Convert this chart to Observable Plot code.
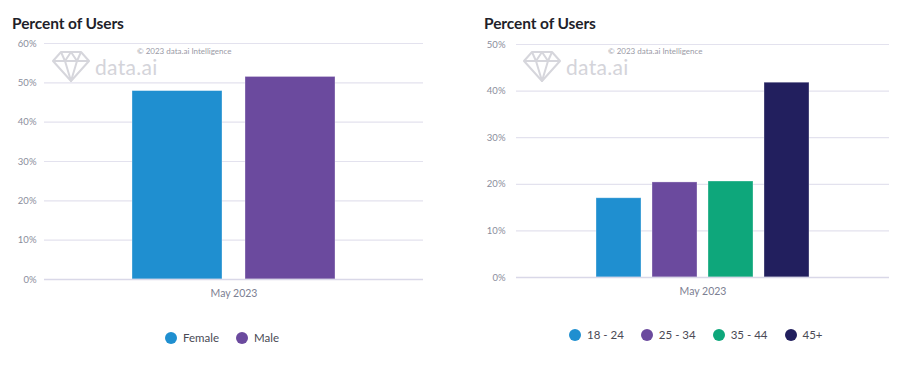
<!DOCTYPE html>
<html>
<head>
<meta charset="utf-8">
<script src="https://cdn.jsdelivr.net/npm/d3@7"></script>
<script src="https://cdn.jsdelivr.net/npm/@observablehq/plot@0.6"></script>
<style>
  html, body { margin: 0; padding: 0; background: #fff; }
  body { width: 900px; height: 368px; position: relative; overflow: hidden; font-family: Lato, "Open Sans", sans-serif; }
  .title { position: absolute; top: 14px; font-size: 15.5px; font-weight: 700; color: #1f1f2b; letter-spacing: -0.1px; }
  .plot { position: absolute; top: 30px; }
  .legend { position: absolute; display: flex; align-items: center; font-size: 11.5px; color: #4a4a55; }
  .legend .item { display: flex; align-items: center; margin-right: 17px; }
  .legend .sw { width: 12px; height: 12px; border-radius: 50%; margin-right: 6px; }
  .wm { position: absolute; color: #c4c4cc; }
  .wm .copy { position: absolute; font-size: 8px; white-space: nowrap; color: #9a9aa6; }
  .wm .brand { position: absolute; font-size: 21px; white-space: nowrap; color: #d4d4da; font-family: Lato, sans-serif; letter-spacing: 0.3px; }
  .wm svg { position: absolute; }
</style>
</head>
<body>
<div class="title" style="left:12px">Percent of Users</div>
<div class="title" style="left:484px">Percent of Users</div>
<div id="left" class="plot" style="left:0px"></div>
<div id="right" class="plot" style="left:450px"></div>
<div id="legL" class="legend" style="left:165px; top:331px"></div>
<div id="legR" class="legend" style="left:569px; top:328px"></div>
<div id="wmL" class="wm" style="left:0; top:0"></div>
<div id="wmR" class="wm" style="left:0; top:0"></div>
<script>
// ---- data ----
const period = "May 2023";
const genderCats = ["Female", "Male"];
const genderVals = [47.9, 51.5];
const ageCats = ["18 - 24", "25 - 34", "35 - 44", "45+"];
const ageVals = [17.0, 20.4, 20.6, 41.8];
const leftTicks = [0, 10, 20, 30, 40, 50, 60];
const rightTicks = [0, 10, 20, 30, 40, 50];
const genderColors = ["#1f8fd0", "#6b4a9e"];
const ageColors = ["#1f8fd0", "#6b4a9e", "#0ea77b", "#221f5e"];
const watermarkCopy = "© 2023 data.ai Intelligence";
const watermarkBrand = "data.ai";

function chart(cats, vals, colors, ticks, opts) {
  const data = cats.map((c, i) => ({cat: c, value: vals[i]}));
  return Plot.plot({
    width: 450,
    height: 280,
    marginLeft: opts.marginLeft,
    marginRight: opts.marginRight,
    marginTop: opts.marginTop,
    marginBottom: opts.marginBottom,
    style: {fontFamily: "Lato, 'Open Sans', sans-serif", fontSize: "9.5px", color: "#8a8d9c", background: "transparent"},
    x: {domain: cats, paddingInner: 0.2, paddingOuter: 0, insetLeft: opts.inset, insetRight: opts.inset, axis: null},
    y: {domain: [0, ticks[ticks.length - 1]], ticks: ticks, tickFormat: d => d + "%", label: null, tickSize: 0, tickPadding: opts.tickPadding},
    color: {domain: cats, range: colors},
    marks: [
      Plot.ruleY(ticks, {stroke: "#e3e2ee", strokeWidth: 1.2}),
      Plot.barY(data, {x: "cat", y: "value", fill: "cat", stroke: "#ffffff", strokeOpacity: 0.4, strokeWidth: 0.8}),
      Plot.ruleY([0], {stroke: "#d9d8e8", strokeWidth: 1.4}),
      Plot.text([period], {frameAnchor: "bottom", dy: 17, fontSize: 10.5, fill: "#7c8092"})
    ]
  });
}

document.getElementById("left").append(
  chart(genderCats, genderVals, genderColors, leftTicks,
    {marginLeft: 44, marginRight: 27, marginTop: 13, marginBottom: 31, inset: 87, tickPadding: 8}));
document.getElementById("right").append(
  chart(ageCats, ageVals, ageColors, rightTicks,
    {marginLeft: 66, marginRight: 11, marginTop: 14, marginBottom: 33, inset: 80, tickPadding: 11}));

function legend(id, cats, colors) {
  const el = document.getElementById(id);
  cats.forEach((c, i) => {
    const it = document.createElement("div");
    it.className = "item";
    it.innerHTML = `<span class="sw" style="background:${colors[i]}"></span><span>${c}</span>`;
    el.append(it);
  });
}
legend("legL", genderCats, genderColors);
legend("legR", ageCats, ageColors);

function watermark(id, x0, y0) {
  const el = document.getElementById(id);
  el.innerHTML = `
    <svg style="left:${x0}px; top:${y0}px" width="38" height="32" viewBox="0 0 38 32">
      <g fill="none" stroke="#d6d6dc" stroke-width="2" stroke-linejoin="round">
        <path d="M9 2 L29 2 L37 11 L19 31 L1 11 Z"/>
        <path d="M1 11 L37 11 M9 2 L13 11 L19 31 L25 11 L29 2 M13 11 L19 2 L25 11"/>
      </g>
    </svg>
    <div class="brand" style="left:${x0 + 43}px; top:${y0 + 4}px">${watermarkBrand}</div>
    <div class="copy" style="left:${x0 + 85}px; top:${y0 - 4}px">${watermarkCopy}</div>`;
}
watermark("wmL", 52, 50);
watermark("wmR", 523, 50);
</script>
</body>
</html>
